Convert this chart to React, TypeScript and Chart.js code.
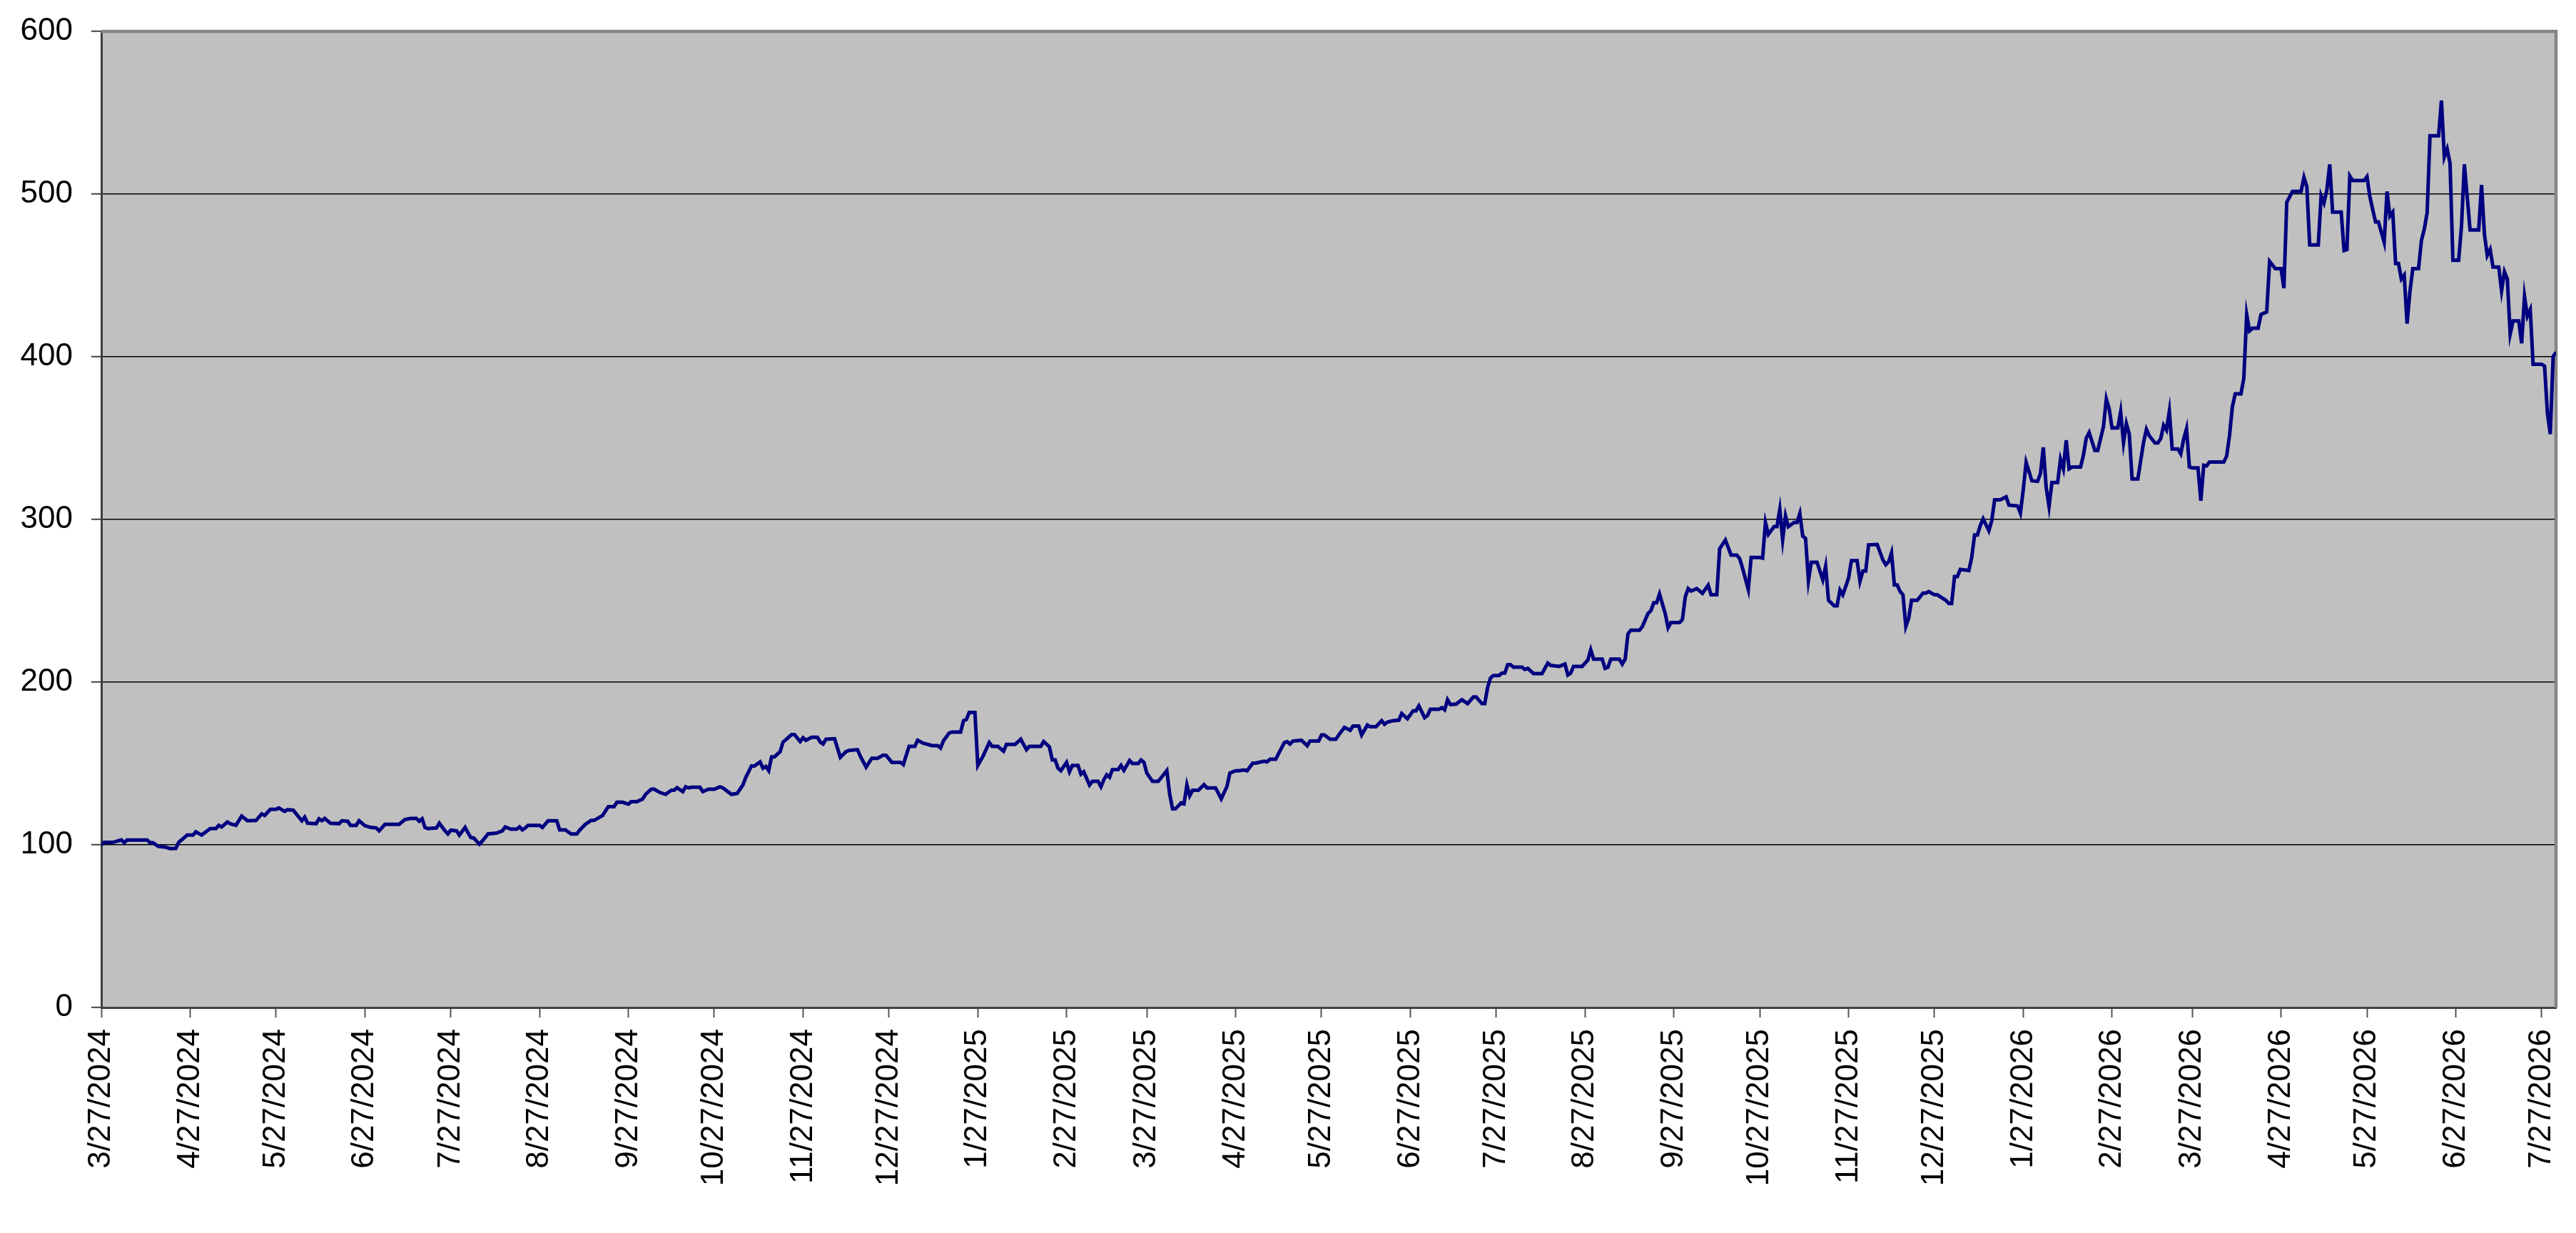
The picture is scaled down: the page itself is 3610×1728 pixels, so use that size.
import { useEffect, useRef } from 'react';
import { Chart, registerables, type ChartConfiguration, type Plugin } from 'chart.js';

Chart.register(...registerables);

// ── Design tokens ──────────────────────────────────────────────────────────────

const C = {
  plot:       '#c0c0c0',
  line:       '#000080',
  grid:       '#000000',
  frameLight: '#858585',
  frameDark:  '#404040',
  tick:       '#555555',
  text:       '#000000',
} as const;

const FONT = '"Liberation Sans", Arial, Helvetica, sans-serif';

// ── Data ───────────────────────────────────────────────────────────────────────

// day 0 = 3/27/2024
const START = Date.UTC(2024, 2, 27);
const LAST_DAY = 857;

const tickLabels = [
  '3/27/2024', '4/27/2024', '5/27/2024', '6/27/2024', '7/27/2024', '8/27/2024',
  '9/27/2024', '10/27/2024', '11/27/2024', '12/27/2024', '1/27/2025', '2/27/2025',
  '3/27/2025', '4/27/2025', '5/27/2025', '6/27/2025', '7/27/2025', '8/27/2025',
  '9/27/2025', '10/27/2025', '11/27/2025', '12/27/2025', '1/27/2026', '2/27/2026',
  '3/27/2026', '4/27/2026', '5/27/2026', '6/27/2026', '7/27/2026',
];

const yTicks = [0, 100, 200, 300, 400, 500, 600];

const dayOffsets = [
  0, 1, 4, 7, 8, 9, 12, 16, 17, 18, 20, 22, 24, 26, 27, 30, 32, 33, 35, 38,
  40, 41, 42, 44, 45, 47, 49, 51, 54, 56, 57, 59, 61, 62, 64, 65, 67, 70, 71, 72,
  75, 76, 77, 78, 80, 83, 84, 86, 87, 89, 90, 92, 94, 96, 97, 99, 104, 106, 108, 110,
  111, 112, 113, 114, 117, 118, 120, 121, 122, 124, 125, 127, 128, 129, 130, 132, 133, 135, 138, 140,
  141, 143, 145, 146, 147, 148, 149, 153, 154, 156, 159, 160, 162, 164, 166, 167, 169, 171, 172, 175,
  177, 179, 180, 182, 184, 185, 187, 189,
  190, 192, 193, 195, 197, 199, 200, 201, 203, 204, 205, 206, 209, 210, 212, 214, 216, 217, 220, 222,
  224, 225, 227, 228, 230, 231, 232, 233, 234, 235, 237, 238, 239, 241, 242, 244, 245, 246, 248, 250,
  251, 252, 253, 256, 258, 260, 261, 264, 265, 267, 269, 271, 273, 274, 276, 279, 280, 282, 284, 285,
  287, 288, 290, 292, 293, 294, 296, 297, 300, 301, 302, 303, 305, 306, 308, 310, 311, 313, 315, 316,
  318, 319, 321, 323, 324, 328, 329, 331, 332, 333, 334, 335, 337, 338, 339, 341, 342, 343, 345, 346,
  348, 349, 350, 351, 352, 353, 355, 356, 357, 359, 360, 362, 363, 364, 365, 367, 369, 372,
  373, 374, 375, 377, 378, 379, 380, 381, 383, 385, 386, 389, 391, 393, 394, 396, 397, 399, 400, 402,
  403, 406, 407, 408, 410, 413, 414, 415, 416, 419, 421, 422, 425, 426, 427, 429, 431, 432, 434, 436,
  437, 439, 440, 442, 443, 445, 447, 448, 449, 451, 453, 454, 456, 458, 459, 460, 462, 463, 464, 467,
  468, 469, 470, 471, 473, 475, 477, 479, 480, 482, 483, 484, 485, 486, 488, 489, 490, 491, 492, 493,
  496, 497, 498, 500, 503, 505, 506, 509, 511, 512, 513, 514, 517, 519, 520, 521, 524, 525, 526, 527,
  530, 531, 532, 533, 534, 537, 538, 540, 541, 542, 543, 544, 546, 547, 548, 551, 552, 553, 554, 555,
  557, 559, 561, 562,
  564, 565, 567, 569, 571, 572, 573, 575, 576, 579, 580, 581, 582, 584, 585, 586, 587, 588, 589, 591,
  592, 593, 594, 595, 596, 597, 599, 601, 602, 603, 605, 606, 607, 608, 610, 611, 613, 614, 615, 616,
  617, 620, 622, 623, 624, 625, 626, 627, 628, 629, 630, 631, 632, 634, 636, 637, 638, 640, 641, 644,
  645, 646, 647, 648, 649, 652, 653, 654, 655, 656, 657, 659, 660, 661, 663, 665, 666, 669, 670, 671,
  672, 674, 676, 677, 678, 679, 680, 681, 683, 684, 685, 686, 687, 688, 691, 692, 693, 694, 696, 697,
  699, 700, 701, 702, 704, 705, 706, 707, 708, 709, 711,
  713, 714, 715, 717, 718, 719, 720, 721, 722, 723, 725, 726, 727, 728, 729, 730, 732, 733, 734, 735,
  736, 741, 742, 743, 744, 745, 747, 748, 749, 750, 751, 753, 754, 756, 757, 759, 761, 762, 763, 765,
  768, 769, 770, 771, 774, 775, 776, 777, 778, 779, 782, 783, 784, 785, 786, 790, 791,
  792, 793, 794, 795, 797, 798, 799, 800, 801, 802, 803, 804, 805, 806, 807, 809, 810, 811, 812, 813,
  816, 817, 818, 819, 820, 821, 823, 824, 825, 827, 830, 831, 832, 833, 834, 835, 837, 838, 839, 840,
  841, 842, 844, 845, 846, 847, 848, 849, 852, 853, 854, 855, 856, 857,
];

const values = [
  100, 101.5, 101.5, 103, 101.3, 103, 103, 103, 101.3, 101.3, 99, 98.7, 97.7, 97.8, 101.5, 106, 106, 108, 106, 110,
  110, 112, 111, 114, 113, 112, 117.7, 114.8, 115, 119, 118, 121.8, 121.8, 122.7, 120.6, 121.6, 121.3, 114.8, 117, 113.3,
  113, 116, 114.8, 116.2, 113.3, 113, 114.8, 114.5, 112, 112, 114.8, 111.8, 110.7, 110.4, 108.6, 112.6, 112.6, 115.5, 116.2, 116.2,
  114.5, 116, 110.7, 110, 110.4, 113.3, 108.6, 106.7, 109, 108.6, 106, 110.7, 107.5, 104.5, 104.2, 100.4, 102.3, 106.7, 107.2, 108.6,
  111, 109.6, 109.6, 111, 109.2, 110.4, 112, 112, 110.7, 114.8, 114.8, 109.2, 109.2, 106.7, 106.7, 109, 112.6, 115, 115, 118,
  123.5, 123.5, 126.2, 126.2, 125, 126.5, 126.5, 128.2,
  131, 134.2, 134.2, 132.2, 131, 133.6, 133.6, 135.1, 132.7, 135.7, 135, 135.4, 135.4, 132.7, 134.2, 134.2, 135.7, 135, 131, 131.6,
  136.8, 141.5, 148.5, 148.5, 151, 147.1, 148.2, 145.6, 154.1, 154.1, 157.3, 163.2, 164.6, 167.8, 167.8, 163.5, 165.8, 164.3, 166.1, 166.1,
  163.2, 162, 164.9, 165.2, 153.8, 157.3, 158, 158.5, 154.4, 147.8, 153.2, 153.2, 155.1, 155, 150.7, 150.7, 149.3, 160.5, 160.5, 164.3,
  162.4, 162, 161, 161, 159.5, 163.9, 168.7, 169.3, 169.3, 176.3, 177, 181.4, 181.4, 148.8, 155.1, 162.9, 160.5, 160.5, 157.6, 161.7,
  161.7, 161.7, 164.9, 158.5, 160.5, 160.5, 163.5, 160.2, 152.2, 152.2, 147.1, 145.6, 150.7, 144.9, 148.8, 148.8, 143.4, 144.9, 136.8, 139,
  139, 135.7, 140, 143, 141.5, 146.3, 146.3, 148.8, 145.8, 151.8, 150, 150, 152.2, 150.7, 144.1, 139, 139, 145.6,
  131, 122.1, 122.1, 125.8, 125.2, 136.8, 130.2, 133.5, 133.5, 137, 135, 135, 128.3, 136, 144.1, 145.5, 145.5, 146, 145.5, 150.2,
  150.2, 151.4, 151, 152.6, 152.6, 162.8, 163.4, 161.9, 163.8, 164.3, 160.9, 163.8, 163.8, 167.5, 167.5, 164.9, 164.9, 167.5, 172.2, 170.4,
  173, 173, 167.5, 173.6, 172.6, 172.6, 176.3, 174.1, 175.4, 176.3, 176.6, 180.7, 177.5, 182.4, 182.4, 185.4, 178.1, 179.5, 183.3, 183.3,
  184.3, 183, 189.2, 186.2, 186.5, 189.2, 186.8, 190.9, 190.9, 186.8, 186.8, 196.8, 202.6, 204.1, 204.1, 205.6, 205.6, 210.7, 210.7, 209.2,
  209.2, 207.8, 208.5, 205.3, 205.3, 211.7, 210.3, 209.7, 211.1, 204.4, 205.6, 209.7, 209.7, 213.6, 219.9, 214.1, 214.1, 208.5, 209.2, 214.1,
  214.1, 211.1, 214.1, 229.7, 231.9, 231.9, 234.1, 242.2, 243.9, 248.8, 248.8, 254.2, 242.2, 233.4, 236.6, 236.6, 238.5, 252.4, 257.5, 256,
  257.5, 254.6, 259.6, 253.7,
  253.7, 282, 287.3, 278.1, 278.1, 275.9, 270, 256.9, 276.6, 276.6, 276.2, 298.1, 290.8, 295.6, 295.6, 306.3, 287.6, 302.2, 295.6, 298.1,
  298.1, 303.7, 289.8, 288.3, 262.4, 273.7, 273.7, 263, 271.2, 250.3, 246.9, 246.9, 256.6, 253.7, 263.9, 274.7, 274.7, 262, 268.3, 268.3,
  284.4, 284.6, 275.1, 272.2, 274, 279.5, 259.8, 259.8, 255.7, 253.7, 234.2, 239.3, 250.3, 250.3, 254.7, 254.7, 255.7, 253.7, 253.7, 250.3,
  248.4, 248.4, 264.9, 264.9, 269.3, 268.6, 276.6, 290.5, 290.5, 296.3, 300.4, 293.1, 299.3, 312.1, 312.1, 313.9, 308.8, 308.3, 303.9, 318.3,
  335.1, 323.8, 323.4, 328.2, 344.3, 319.7, 308, 322.7, 322.7, 337, 331.1, 348.7, 331.1, 332.2, 332.2, 339.5, 350.1, 353.4, 342.4, 342.4,
  357, 374.1, 368, 356.3, 356.3, 366.2, 347.2, 358.9, 352.6, 324.9, 324.9,
  347.4, 355.4, 351.4, 347, 347, 349.8, 357.9, 355, 366.5, 343.3, 343.3, 340.3, 349.4, 355.8, 332.3, 331.7, 331.7, 311.5, 333.3, 332.9,
  335.3, 335.3, 338.9, 351.4, 369.2, 377.2, 377.2, 386.7, 426, 415.9, 417.5, 417.5, 426, 427.6, 458.7, 454.2, 454.2, 442.1, 495, 501.6,
  501.6, 510.3, 504.6, 468.8, 468.8, 499, 494.6, 502.6, 518.3, 488.9, 488.9, 465.3, 465.9, 511.1, 508.3, 508.3, 510.7,
  498.6, 490.5, 482.9, 482.9, 470.4, 501.6, 486.5, 488.9, 457.3, 457.3, 447.8, 450.2, 420.4, 440.1, 454.2, 454.2, 471.4, 478.4, 488.5, 535.9,
  535.9, 557.5, 522.8, 527.8, 518.8, 459.3, 459.3, 480.4, 518.3, 478, 478, 505.6, 475.4, 462.3, 465.9, 455.2, 455.2, 440.5, 452.2, 447.8,
  413.9, 422, 422, 408.3, 437.1, 425, 429, 395.4, 395.4, 394.2, 365.5, 352.4, 400.2, 402.8,
];

function labelToDay(label: string): number {
  const [m, d, y] = label.split('/').map(Number);
  return Math.round((Date.UTC(y, m - 1, d) - START) / 86400000);
}

const tickDays = tickLabels.map(labelToDay);

// ── Plot frame (grey fill + light top/right edge) ─────────────────────────────

const plotFrame: Plugin<'line'> = {
  id: 'plotFrame',
  beforeDraw(chart) {
    const { ctx, chartArea: a } = chart;
    ctx.save();
    ctx.fillStyle = C.plot;
    ctx.fillRect(a.left, a.top, a.right - a.left, a.bottom - a.top);
    ctx.restore();
  },
  beforeDatasetsDraw(chart) {
    const { ctx, chartArea: a } = chart;
    ctx.save();
    ctx.strokeStyle = C.frameLight;
    ctx.lineWidth = 4.5;
    ctx.beginPath();
    ctx.moveTo(a.left, a.top);
    ctx.lineTo(a.right, a.top);
    ctx.lineTo(a.right, a.bottom);
    ctx.stroke();
    ctx.restore();
  },
};

// ── Main Component ─────────────────────────────────────────────────────────────

const W = 3610;
const H = 1728;

export default function App() {
  const canvasRef = useRef<HTMLCanvasElement>(null);

  useEffect(() => {
    document.body.style.margin = '0';
    const canvas = canvasRef.current;
    if (!canvas) return;

    const config: ChartConfiguration<'line'> = {
      type: 'line',
      data: {
        datasets: [{
          data:        dayOffsets.map((x, i) => ({ x, y: values[i] })),
          borderColor: C.line,
          borderWidth: 5,
          pointRadius: 0,
          tension:     0,
          fill:        false,
        }],
      },
      options: {
        responsive:       false,
        devicePixelRatio: 1,
        animation:        false,
        layout: { padding: { top: 44, right: 28, left: 0, bottom: 0 } },
        plugins: {
          legend:  { display: false },
          tooltip: { enabled: false },
        },
        scales: {
          x: {
            type: 'linear',
            min:  0,
            max:  LAST_DAY,
            afterBuildTicks: (axis) => { axis.ticks = tickDays.map((value) => ({ value })); },
            afterFit: (scale) => {
              scale.height = H - 1412;
              scale.paddingLeft = 0;
              scale.paddingRight = 0;
            },
            grid: {
              drawOnChartArea: false,
              drawTicks:       true,
              tickLength:      14,
              tickWidth:       2,
              tickColor:       C.tick,
            },
            border: { display: true, color: C.frameDark, width: 3 },
            ticks: {
              autoSkip:    false,
              minRotation: 90,
              maxRotation: 90,
              padding:     16,
              color:       C.text,
              font:        { family: FONT, size: 44 },
              callback:    (v) => tickLabels[tickDays.indexOf(Number(v))] ?? '',
            },
          },
          y: {
            min: 0,
            max: 600,
            afterBuildTicks: (axis) => { axis.ticks = yTicks.map((value) => ({ value })); },
            afterFit: (scale) => {
              scale.width = 142;
              scale.paddingTop = 0;
              scale.paddingBottom = 0;
            },
            grid: {
              color: (ctx) => (ctx.tick && (ctx.tick.value === 0 || ctx.tick.value === 600)) ? 'rgba(0,0,0,0)' : C.grid,
              lineWidth:  1.5,
              drawTicks:  true,
              tickLength: 14,
              tickWidth:  2,
              tickColor:  C.frameDark,
            },
            border: { display: true, color: C.frameDark, width: 3 },
            ticks: {
              padding: 26,
              color:   C.text,
              font:    { family: FONT, size: 44 },
            },
          },
        },
      },
      plugins: [plotFrame],
    };

    const chart = new Chart(canvas, config);
    return () => { chart.destroy(); };
  }, []);

  return (
    <div style={{ width: W, height: H, background: '#ffffff' }}>
      <canvas ref={canvasRef} width={W} height={H} style={{ display: 'block' }} />
    </div>
  );
}
